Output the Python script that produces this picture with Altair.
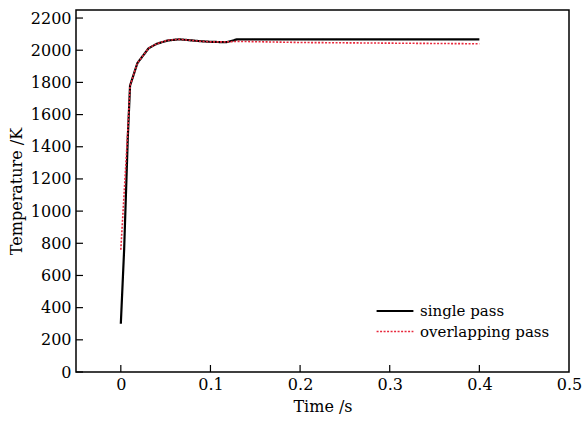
import altair as alt
import pandas as pd

single_t = [0, 0.0037, 0.0078, 0.0103, 0.0185, 0.031, 0.04, 0.052, 0.065, 0.089, 0.1, 0.118, 0.13, 0.2, 0.3, 0.4]
single_T = [300, 760, 1460, 1780, 1920, 2012, 2040, 2060, 2068, 2056, 2052, 2050, 2068, 2068, 2068, 2068]
overlap_t = [0, 0.0078, 0.0103, 0.0185, 0.031, 0.04, 0.052, 0.065, 0.089, 0.1, 0.118, 0.13, 0.2, 0.3, 0.4]
overlap_T = [760, 1500, 1780, 1920, 2012, 2040, 2062, 2068, 2056, 2052, 2052, 2055, 2048, 2044, 2040]
series_names = ["single pass", "overlapping pass"]
x_ticks = [0, 0.1, 0.2, 0.3, 0.4, 0.5]
y_ticks = [0, 200, 400, 600, 800, 1000, 1200, 1400, 1600, 1800, 2000, 2200]

rows = []
for i, (t, T) in enumerate(zip(single_t, single_T)):
    rows.append({"t": t, "T": T, "series": series_names[0], "o": i})
for i, (t, T) in enumerate(zip(overlap_t, overlap_T)):
    rows.append({"t": t, "T": T, "series": series_names[1], "o": i})
df = pd.DataFrame(rows)

W, H = 493, 362
FONT = "DejaVu Serif"

xscale = alt.Scale(domain=[-0.05, 0.5], nice=False, zero=False)
yscale = alt.Scale(domain=[0, 2250], nice=False)
xaxis = alt.Axis(title="Time /s", values=x_ticks, grid=False, ticks=False, domain=False,
                 labelPadding=4, titlePadding=6, format="~g", labelOverlap=False, labelFlush=False)
yaxis = alt.Axis(title="Temperature /K", values=y_ticks, grid=False, ticks=False, domain=False,
                 labelPadding=5, titlePadding=6, format="d", labelOverlap=False, labelFlush=False)

lines = alt.Chart(df).mark_line(clip=True).encode(
    x=alt.X("t:Q", scale=xscale, axis=xaxis, title="Time /s"),
    y=alt.Y("T:Q", scale=yscale, axis=yaxis, title="Temperature /K"),
    order="o:Q",
    color=alt.Color("series:N", sort=series_names,
                    scale=alt.Scale(domain=series_names, range=["#000000", "#e8283c"]),
                    legend=alt.Legend(title=None, orient="none", legendX=306, legendY=288,
                                      symbolType="M-1.6,0H1.6", symbolSize=530, symbolStrokeWidth=2,
                                      symbolFillColor="transparent",
                                      labelFont=FONT, labelFontSize=15, labelColor="black",
                                      rowPadding=0, labelOffset=12)),
    strokeDash=alt.StrokeDash("series:N", sort=series_names,
                              scale=alt.Scale(domain=series_names, range=[[1, 0], [2, 1.5]])),
    strokeWidth=alt.StrokeWidth("series:N", sort=series_names,
                                scale=alt.Scale(domain=series_names, range=[2.2, 1.6]), legend=None),
)

xt = pd.DataFrame({"t": x_ticks[:-1]})
yt = pd.DataFrame({"T": y_ticks})
xticks = alt.Chart(xt).mark_rule(color="black", strokeWidth=1.2).encode(
    x=alt.X("t:Q", scale=xscale, axis=xaxis, title="Time /s"), y=alt.value(H), y2=alt.value(H - 7))
yticks = alt.Chart(yt).mark_rule(color="black", strokeWidth=1.2).encode(
    y=alt.Y("T:Q", scale=yscale, axis=yaxis, title="Temperature /K"), x=alt.value(0), x2=alt.value(7))

chart = alt.layer(lines, xticks, yticks).properties(
    width=W, height=H,
    autosize=alt.AutoSizeParams(type="none"),
    padding={"left": 76, "top": 10, "right": 13, "bottom": 50},
).configure(background="white").configure_view(
    stroke="black", strokeWidth=1.5
).configure_axis(
    labelFont=FONT, labelFontSize=16, labelColor="black",
    titleFont=FONT, titleFontSize=16, titleColor="black", titleFontWeight="normal",
)

chart.save("out.html", embed_options={"renderer": "svg", "actions": False})
